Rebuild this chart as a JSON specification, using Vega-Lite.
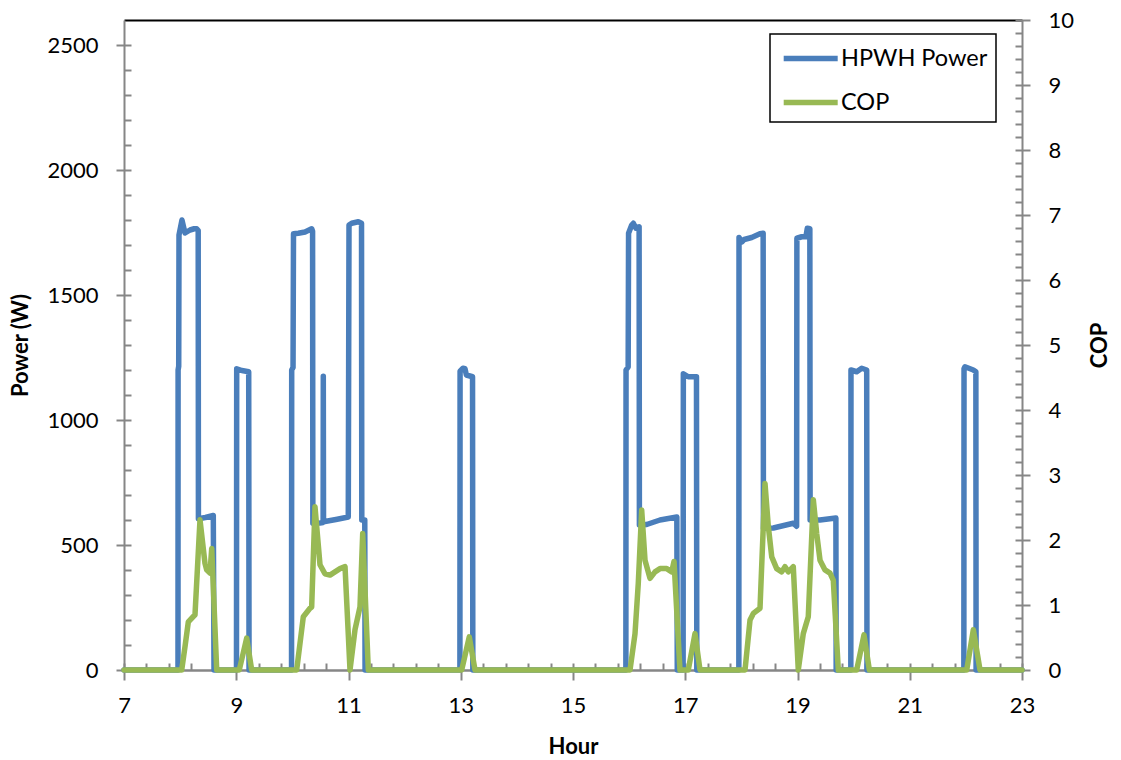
{
  "$schema": "https://vega.github.io/schema/vega-lite/v6.json",
  "width": 898,
  "height": 650,
  "autosize": "none",
  "padding": {"left": 124, "top": 20, "right": 99, "bottom": 90},
  "background": "white",
  "config": {
    "view": {"stroke": null},
    "font": "Lato",
    "axis": {"labelFont": "Lato", "titleFont": "Lato", "labelFontSize": 22, "titleFontSize": 22, "labelColor": "black", "titleColor": "black", "grid": false, "domainColor": "#868686", "tickColor": "#868686", "domainWidth": 2, "tickWidth": 2},
    "legend": {"strokeWidth": 1.5}
  },
  "datasets": {
    "power": [
      {"hour": 7, "power": 0}, {"hour": 7.962, "power": 0}, {"hour": 7.964, "power": 1200}, {"hour": 7.975, "power": 1215}, {"hour": 7.98, "power": 1740}, {"hour": 8.033, "power": 1800}, {"hour": 8.087, "power": 1748}, {"hour": 8.176, "power": 1760}, {"hour": 8.25, "power": 1765}, {"hour": 8.295, "power": 1765}, {"hour": 8.322, "power": 1758}, {"hour": 8.326, "power": 605}, {"hour": 8.45, "power": 610}, {"hour": 8.591, "power": 618}, {"hour": 8.604, "power": 0},
      {"hour": 9.004, "power": 0}, {"hour": 9.008, "power": 1205}, {"hour": 9.1, "power": 1198}, {"hour": 9.222, "power": 1193}, {"hour": 9.228, "power": 0},
      {"hour": 9.985, "power": 0}, {"hour": 9.988, "power": 1200}, {"hour": 10.012, "power": 1210}, {"hour": 10.02, "power": 1745}, {"hour": 10.106, "power": 1747}, {"hour": 10.225, "power": 1752}, {"hour": 10.344, "power": 1765}, {"hour": 10.36, "power": 1755}, {"hour": 10.365, "power": 587}, {"hour": 10.49, "power": 588}, {"hour": 10.548, "power": 590}, {"hour": 10.551, "power": 1175}, {"hour": 10.555, "power": 593}, {"hour": 10.8, "power": 603}, {"hour": 10.996, "power": 612}, {"hour": 11.009, "power": 1780}, {"hour": 11.057, "power": 1787}, {"hour": 11.175, "power": 1793}, {"hour": 11.232, "power": 1787}, {"hour": 11.237, "power": 600}, {"hour": 11.29, "power": 600}, {"hour": 11.295, "power": 0},
      {"hour": 12.985, "power": 0}, {"hour": 12.988, "power": 1195}, {"hour": 13.04, "power": 1207}, {"hour": 13.076, "power": 1205}, {"hour": 13.1, "power": 1180}, {"hour": 13.21, "power": 1173}, {"hour": 13.215, "power": 0},
      {"hour": 15.942, "power": 0}, {"hour": 15.945, "power": 1200}, {"hour": 15.983, "power": 1212}, {"hour": 15.99, "power": 1747}, {"hour": 16.046, "power": 1780}, {"hour": 16.075, "power": 1787}, {"hour": 16.122, "power": 1767}, {"hour": 16.178, "power": 1773}, {"hour": 16.183, "power": 580}, {"hour": 16.313, "power": 582}, {"hour": 16.55, "power": 600}, {"hour": 16.85, "power": 612}, {"hour": 16.858, "power": 0},
      {"hour": 16.962, "power": 0}, {"hour": 16.966, "power": 1185}, {"hour": 17.054, "power": 1173}, {"hour": 17.2, "power": 1173}, {"hour": 17.206, "power": 0},
      {"hour": 17.955, "power": 0}, {"hour": 17.958, "power": 1730}, {"hour": 18.006, "power": 1712}, {"hour": 18.05, "power": 1722}, {"hour": 18.184, "power": 1730}, {"hour": 18.33, "power": 1745}, {"hour": 18.388, "power": 1747}, {"hour": 18.393, "power": 567}, {"hour": 18.569, "power": 568}, {"hour": 18.925, "power": 587}, {"hour": 18.984, "power": 575}, {"hour": 18.989, "power": 1727}, {"hour": 19.075, "power": 1733}, {"hour": 19.15, "power": 1733}, {"hour": 19.175, "power": 1767}, {"hour": 19.22, "power": 1765}, {"hour": 19.225, "power": 600}, {"hour": 19.401, "power": 600}, {"hour": 19.684, "power": 608}, {"hour": 19.689, "power": 0},
      {"hour": 19.95, "power": 0}, {"hour": 19.953, "power": 1200}, {"hour": 20.055, "power": 1193}, {"hour": 20.144, "power": 1207}, {"hour": 20.233, "power": 1200}, {"hour": 20.238, "power": 0},
      {"hour": 21.964, "power": 0}, {"hour": 21.967, "power": 1205}, {"hour": 21.984, "power": 1213}, {"hour": 22.133, "power": 1200}, {"hour": 22.178, "power": 1193}, {"hour": 22.182, "power": 0}, {"hour": 23, "power": 0}
    ],
    "cop": [
      {"hour": 7, "cop": 0}, {"hour": 8.028, "cop": 0}, {"hour": 8.087, "cop": 0.36}, {"hour": 8.146, "cop": 0.74}, {"hour": 8.265, "cop": 0.85}, {"hour": 8.354, "cop": 2.31}, {"hour": 8.443, "cop": 1.64}, {"hour": 8.473, "cop": 1.54}, {"hour": 8.532, "cop": 1.49}, {"hour": 8.563, "cop": 1.87}, {"hour": 8.652, "cop": 0},
      {"hour": 9.054, "cop": 0}, {"hour": 9.186, "cop": 0.49}, {"hour": 9.275, "cop": 0},
      {"hour": 10.077, "cop": 0}, {"hour": 10.195, "cop": 0.82}, {"hour": 10.314, "cop": 0.95}, {"hour": 10.344, "cop": 0.97}, {"hour": 10.403, "cop": 2.51}, {"hour": 10.492, "cop": 1.62}, {"hour": 10.58, "cop": 1.48}, {"hour": 10.67, "cop": 1.46}, {"hour": 10.759, "cop": 1.51}, {"hour": 10.849, "cop": 1.56}, {"hour": 10.938, "cop": 1.59}, {"hour": 11.027, "cop": 0}, {"hour": 11.116, "cop": 0.62}, {"hour": 11.205, "cop": 0.97}, {"hour": 11.253, "cop": 2.1}, {"hour": 11.353, "cop": 0},
      {"hour": 13.017, "cop": 0}, {"hour": 13.152, "cop": 0.51}, {"hour": 13.254, "cop": 0},
      {"hour": 16.016, "cop": 0}, {"hour": 16.105, "cop": 0.56}, {"hour": 16.163, "cop": 1.33}, {"hour": 16.224, "cop": 2.46}, {"hour": 16.283, "cop": 1.69}, {"hour": 16.372, "cop": 1.41}, {"hour": 16.461, "cop": 1.51}, {"hour": 16.55, "cop": 1.56}, {"hour": 16.67, "cop": 1.56}, {"hour": 16.759, "cop": 1.51}, {"hour": 16.8, "cop": 1.67}, {"hour": 16.906, "cop": 0},
      {"hour": 17.054, "cop": 0}, {"hour": 17.174, "cop": 0.56}, {"hour": 17.263, "cop": 0},
      {"hour": 18.065, "cop": 0}, {"hour": 18.154, "cop": 0.77}, {"hour": 18.213, "cop": 0.87}, {"hour": 18.332, "cop": 0.95}, {"hour": 18.421, "cop": 2.87}, {"hour": 18.48, "cop": 2.21}, {"hour": 18.541, "cop": 1.74}, {"hour": 18.629, "cop": 1.56}, {"hour": 18.719, "cop": 1.51}, {"hour": 18.777, "cop": 1.59}, {"hour": 18.836, "cop": 1.51}, {"hour": 18.925, "cop": 1.59}, {"hour": 19.014, "cop": 0}, {"hour": 19.103, "cop": 0.56}, {"hour": 19.192, "cop": 0.82}, {"hour": 19.282, "cop": 2.62}, {"hour": 19.342, "cop": 2.1}, {"hour": 19.401, "cop": 1.69}, {"hour": 19.49, "cop": 1.54}, {"hour": 19.579, "cop": 1.49}, {"hour": 19.638, "cop": 1.38}, {"hour": 19.727, "cop": 0},
      {"hour": 20.055, "cop": 0}, {"hour": 20.185, "cop": 0.54}, {"hour": 20.28, "cop": 0},
      {"hour": 22.015, "cop": 0}, {"hour": 22.133, "cop": 0.62}, {"hour": 22.252, "cop": 0}, {"hour": 23, "cop": 0}
    ]
  },
  "layer": [
    {
      "data": {"name": "power"},
      "mark": {"type": "line", "strokeWidth": 5.5, "strokeJoin": "round", "strokeCap": "round"},
      "encoding": {
        "x": {"field": "hour", "type": "quantitative", "scale": {"domain": [7, 23], "nice": false, "zero": false},
          "axis": {"orient": "bottom", "values": [7, 9, 11, 13, 15, 17, 19, 21, 23], "tickSize": 10, "labelPadding": 15, "title": "Hour", "titleFontWeight": "bold", "titlePadding": 20, "domainWidth": 2.5, "labelFlush": false}},
        "y": {"field": "power", "type": "quantitative", "scale": {"domain": [0, 2600], "nice": false},
          "axis": {"orient": "left", "values": [0, 500, 1000, 1500, 2000, 2500], "format": "d", "tickSize": 8, "labelPadding": 18, "title": "Power (W)", "titleFontWeight": "bold", "titlePadding": 14}},
        "color": {"datum": "HPWH Power", "type": "nominal",
          "scale": {"domain": ["HPWH Power", "COP"], "range": ["#4a7ebb", "#98b954"]},
          "legend": {"orient": "none", "legendX": 646, "legendY": 14, "title": null, "symbolType": "M-0.8,0H3.2", "symbolSize": 729, "symbolStrokeWidth": 5.5, "labelFontSize": 23.5, "labelFont": "Lato", "labelColor": "black", "strokeColor": "black", "fillColor": "white", "padding": 8, "rowPadding": 16, "labelOffset": 30, "labelLimit": 300}}
      }
    },
    {
      "data": {"name": "cop"},
      "mark": {"type": "line", "strokeWidth": 5.5, "strokeJoin": "round", "strokeCap": "round"},
      "encoding": {
        "x": {"field": "hour", "type": "quantitative", "scale": {"domain": [7, 23], "nice": false, "zero": false},
          "axis": {"orient": "top", "domainColor": "black", "domainWidth": 2, "ticks": false, "labels": false, "title": null}},
        "y": {"field": "cop", "type": "quantitative", "scale": {"domain": [0, 10], "nice": false},
          "axis": {"orient": "right", "values": [0, 1, 2, 3, 4, 5, 6, 7, 8, 9, 10], "tickSize": 8, "labelPadding": 18, "title": "COP", "titleFontWeight": "bold", "titleAngle": 270, "titlePadding": 38}},
        "color": {"datum": "COP", "type": "nominal"}
      }
    },
    {
      "data": {"name": "power"},
      "mark": {"type": "line", "opacity": 0},
      "encoding": {
        "x": {"field": "hour", "type": "quantitative", "scale": {"domain": [7, 23], "nice": false, "zero": false},
          "axis": {"orient": "bottom", "values": [7, 7.4, 7.8, 8.2, 8.6, 9, 9.4, 9.8, 10.2, 10.6, 11, 11.4, 11.8, 12.2, 12.6, 13, 13.4, 13.8, 14.2, 14.6, 15, 15.4, 15.8, 16.2, 16.6, 17, 17.4, 17.8, 18.2, 18.6, 19, 19.4, 19.8, 20.2, 20.6, 21, 21.4, 21.8, 22.2, 22.6, 23], "tickSize": -7, "labels": false, "domain": false, "title": null}},
        "y": {"field": "power", "type": "quantitative", "scale": {"domain": [0, 2600], "nice": false},
          "axis": {"orient": "left", "values": [0, 100, 200, 300, 400, 500, 600, 700, 800, 900, 1000, 1100, 1200, 1300, 1400, 1500, 1600, 1700, 1800, 1900, 2000, 2100, 2200, 2300, 2400, 2500], "tickSize": -7, "labels": false, "domain": false, "title": null}}
      }
    },
    {
      "data": {"name": "cop"},
      "mark": {"type": "line", "opacity": 0},
      "encoding": {
        "x": {"field": "hour", "type": "quantitative", "scale": {"domain": [7, 23], "nice": false, "zero": false}, "axis": null},
        "y": {"field": "cop", "type": "quantitative", "scale": {"domain": [0, 10], "nice": false},
          "axis": {"orient": "right", "values": [0, 0.2, 0.4, 0.6, 0.8, 1, 1.2, 1.4, 1.6, 1.8, 2, 2.2, 2.4, 2.6, 2.8, 3, 3.2, 3.4, 3.6, 3.8, 4, 4.2, 4.4, 4.6, 4.8, 5, 5.2, 5.4, 5.6, 5.8, 6, 6.2, 6.4, 6.6, 6.8, 7, 7.2, 7.4, 7.6, 7.8, 8, 8.2, 8.4, 8.6, 8.8, 9, 9.2, 9.4, 9.6, 9.8, 10], "tickSize": -7, "labels": false, "domain": false, "title": null}}
      }
    }
  ],
  "resolve": {"scale": {"x": "independent", "y": "independent"}, "axis": {"x": "independent", "y": "independent"}}
}
